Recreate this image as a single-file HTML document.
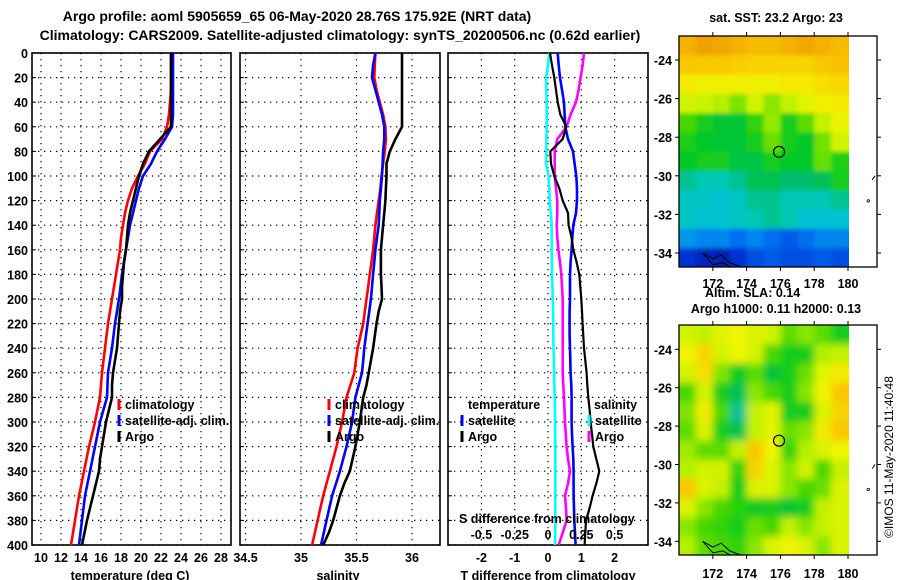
<!DOCTYPE html>
<html><head><meta charset="utf-8">
<style>
html,body{margin:0;padding:0;background:#fff;}
svg{display:block;font-family:"Liberation Sans",Arial,sans-serif;}
.b{font-weight:bold;font-size:12.5px;fill:#000;}
.t{font-weight:bold;font-size:14px;fill:#000;}
</style></head>
<body>
<svg id="fig" width="900" height="580" viewBox="0 0 900 580" xmlns="http://www.w3.org/2000/svg">
<defs>
<clipPath id="cTop"><rect x="679" y="36" width="170" height="231"/></clipPath>
<clipPath id="cBot"><rect x="679" y="325" width="170" height="230"/></clipPath>
<clipPath id="cP1"><rect x="32" y="53" width="199" height="492"/></clipPath>
<clipPath id="cP2"><rect x="240" y="53" width="200" height="492"/></clipPath>
<clipPath id="cP3"><rect x="448" y="53" width="200" height="492"/></clipPath>
<filter id="blurTop" x="-5%" y="-5%" width="110%" height="110%"><feGaussianBlur stdDeviation="2"/></filter>
<filter id="blurBot" x="-5%" y="-5%" width="110%" height="110%"><feGaussianBlur stdDeviation="4"/></filter>
</defs>
<text class="t" x="297" y="21" text-anchor="middle">Argo profile: aoml 5905659_65 06-May-2020 28.76S 175.92E (NRT data)</text>
<text class="t" x="340" y="40" text-anchor="middle">Climatology: CARS2009. Satellite-adjusted climatology: synTS_20200506.nc (0.62d earlier)</text>
<g id="p1"></g>
<g id="p2"></g>
<g id="p3"></g>
<g id="mapTop"></g>
<g id="mapBot"></g>
<text class="b" x="776" y="22" text-anchor="middle">sat. SST: 23.2 Argo: 23</text>
<text class="b" x="705" y="297">Altim. SLA: 0.14</text>
<text class="b" x="776" y="313" text-anchor="middle">Argo h1000: 0.11 h2000: 0.13</text>
<text x="893" y="457" font-size="12" text-anchor="middle" transform="rotate(-90 893 457)">©IMOS 11-May-2020 11:40:48</text>
</svg>
<script>
// ---- profile data (depth every 10 m) ----
const depths = [0,10,20,30,40,50,60,70,80,90,100,110,120,130,140,150,160,170,180,190,200,210,220,230,240,250,260,270,280,290,300,310,320,330,340,350,360,370,380,390,400];
const tempClim = [23.0,23.0,23.0,23.0,22.9,22.8,22.6,22.1,20.9,20.4,19.7,19.1,18.7,18.4,18.2,18.0,17.9,17.7,17.5,17.3,17.1,16.9,16.7,16.55,16.4,16.25,16.1,16.0,15.9,15.65,15.4,15.1,14.8,14.55,14.3,14.05,13.8,13.6,13.4,13.2,13.0];
const tempSat = [23.2,23.2,23.2,23.2,23.2,23.2,23.1,22.4,21.6,21.0,20.2,19.8,19.5,19.2,18.9,18.7,18.5,18.3,18.1,17.95,17.8,17.6,17.4,17.25,17.1,16.9,16.7,16.65,16.6,16.25,15.9,15.65,15.4,15.15,14.9,14.65,14.4,14.25,14.1,13.95,13.8];
const tempArgo = [23.0,23.0,23.0,23.0,23.0,23.0,23.0,21.9,20.8,20.2,19.8,19.5,19.2,18.9,18.7,18.6,18.5,18.3,18.2,18.1,18.1,17.9,17.8,17.7,17.6,17.4,17.2,17.1,17.1,16.8,16.5,16.3,16.1,15.9,15.8,15.5,15.2,14.9,14.6,14.35,14.1];
const salClim = [35.67,35.665,35.66,35.68,35.71,35.74,35.76,35.765,35.755,35.74,35.725,35.715,35.70,35.685,35.67,35.66,35.65,35.635,35.62,35.605,35.59,35.575,35.56,35.535,35.51,35.495,35.48,35.445,35.41,35.39,35.37,35.345,35.32,35.29,35.26,35.23,35.20,35.175,35.15,35.125,35.10];
const salSat = [35.67,35.65,35.64,35.67,35.70,35.73,35.75,35.75,35.74,35.735,35.73,35.72,35.71,35.705,35.70,35.685,35.67,35.66,35.65,35.64,35.63,35.615,35.60,35.585,35.57,35.56,35.55,35.52,35.49,35.475,35.46,35.435,35.41,35.38,35.35,35.315,35.28,35.255,35.23,35.205,35.18];
const salArgo = [35.91,35.91,35.91,35.91,35.91,35.91,35.91,35.85,35.80,35.77,35.77,35.765,35.76,35.75,35.74,35.73,35.72,35.72,35.72,35.725,35.73,35.70,35.68,35.665,35.65,35.63,35.61,35.59,35.56,35.545,35.53,35.51,35.49,35.465,35.44,35.39,35.35,35.32,35.29,35.25,35.20];
const tDiffSat = [0.29,0.32,0.36,0.42,0.48,0.5,0.52,0.6,0.75,0.8,0.85,0.87,0.87,0.84,0.76,0.73,0.71,0.68,0.66,0.66,0.66,0.65,0.65,0.65,0.66,0.67,0.68,0.7,0.71,0.71,0.71,0.72,0.74,0.76,0.77,0.77,0.77,0.78,0.79,0.81,0.83];
const tDiffArgo = [0.06,0.12,0.19,0.24,0.29,0.37,0.55,0.44,0.07,0.09,0.19,0.34,0.44,0.6,0.62,0.71,0.76,0.86,0.94,0.97,1.0,1.02,1.04,1.06,1.08,1.12,1.16,1.18,1.21,1.25,1.28,1.32,1.36,1.45,1.54,1.45,1.34,1.25,1.14,1.12,1.1];
const sDiffSat = [0.01,0.0,-0.015,-0.012,-0.01,-0.01,-0.01,-0.012,-0.012,-0.015,0.005,0.01,0.012,0.02,0.028,0.028,0.028,0.029,0.03,0.033,0.036,0.038,0.04,0.04,0.041,0.044,0.046,0.048,0.05,0.052,0.053,0.054,0.055,0.055,0.055,0.055,0.055,0.055,0.055,0.054,0.053];
const sDiffArgo = [0.27,0.26,0.245,0.23,0.21,0.17,0.14,0.07,0.05,0.05,0.05,0.06,0.07,0.07,0.065,0.07,0.078,0.09,0.10,0.105,0.11,0.11,0.11,0.11,0.11,0.11,0.11,0.115,0.12,0.124,0.128,0.134,0.14,0.15,0.165,0.15,0.128,0.135,0.14,0.11,0.08];
const depthTicks = [0,20,40,60,80,100,120,140,160,180,200,220,240,260,280,300,320,340,360,380,400];
const tempTicks = [10,12,14,16,18,20,22,24,26,28];
const salTicks = ["34.5","35","35.5","36"];
const tDiffTicks = [-2,-1,0,1,2];
const sDiffTicks = ["-0.5","-0.25","0","0.25","0.5"];
// ---- map data (rows lat -22.75 .. -34.75, cols lon 170..180; normalized colour values) ----
const sstGrid = [
[0.9,0.93,0.92,0.9,0.88,0.88,0.9,0.92,0.9,0.88],
[0.86,0.86,0.86,0.85,0.84,0.84,0.84,0.84,0.86,0.87],
[0.8,0.79,0.79,0.79,0.79,0.79,0.8,0.8,0.82,0.83],
[0.74,0.73,0.7,0.65,0.74,0.66,0.72,0.76,0.79,0.8],
[0.6,0.55,0.52,0.52,0.58,0.67,0.55,0.62,0.72,0.77],
[0.56,0.53,0.52,0.52,0.55,0.63,0.55,0.53,0.64,0.74],
[0.53,0.55,0.55,0.51,0.51,0.55,0.53,0.53,0.63,0.56],
[0.45,0.42,0.42,0.45,0.5,0.5,0.48,0.48,0.5,0.55],
[0.4,0.4,0.38,0.4,0.45,0.45,0.42,0.42,0.42,0.45],
[0.4,0.38,0.38,0.4,0.42,0.45,0.42,0.38,0.38,0.38],
[0.3,0.28,0.28,0.25,0.28,0.25,0.22,0.25,0.28,0.28],
[0.15,0.1,0.08,0.15,0.2,0.22,0.2,0.2,0.22,0.2]];
const slaGrid = [
[0.74,0.72,0.76,0.78,0.75,0.74,0.62,0.66,0.62,0.55],
[0.78,0.84,0.74,0.78,0.74,0.6,0.55,0.55,0.7,0.72],
[0.74,0.82,0.65,0.54,0.62,0.52,0.55,0.63,0.76,0.8],
[0.6,0.74,0.55,0.5,0.66,0.6,0.55,0.66,0.78,0.86],
[0.65,0.8,0.6,0.45,0.72,0.76,0.55,0.55,0.75,0.84],
[0.62,0.75,0.55,0.5,0.72,0.76,0.63,0.66,0.8,0.86],
[0.68,0.62,0.62,0.72,0.86,0.78,0.58,0.7,0.75,0.78],
[0.7,0.74,0.74,0.58,0.84,0.75,0.66,0.74,0.6,0.72],
[0.86,0.75,0.72,0.55,0.75,0.75,0.66,0.6,0.63,0.75],
[0.75,0.66,0.6,0.57,0.54,0.55,0.52,0.55,0.72,0.75],
[0.66,0.6,0.58,0.55,0.63,0.6,0.72,0.66,0.72,0.75],
[0.7,0.62,0.6,0.58,0.66,0.75,0.78,0.75,0.66,0.75]];
const mapLonTicks = [172,174,176,178,180];
const topLatTicks = [-24,-26,-28,-30,-32,-34];
const botLatTicks = [-24,-26,-28,-30,-32,-34];
const argoLon = 175.92, argoLat = -28.76;

const NS='http://www.w3.org/2000/svg';
function mk(parent,tag,attrs){const e=document.createElementNS(NS,tag);for(const k in attrs)e.setAttribute(k,attrs[k]);parent.appendChild(e);return e;}
function txt(parent,x,y,s,anchor){const e=mk(parent,'text',{x:x,y:y,'class':'b','text-anchor':anchor||'middle'});e.textContent=s;return e;}

const yD = d => 53 + d*1.23;
const xT = t => 41 + (t-10)*10;
const xS = s => 245.5 + (s-34.5)*111;
const xDT = v => 548 + v*33.3;
const xDS = v => 548 + v*133.2;

function panel(g,x0,x1,vx,showDepthLabels){
  for(const d of depthTicks){
    const l=mk(g,'line',{x1:x0,x2:x1,y1:yD(d),y2:yD(d),stroke:'#000','stroke-width':1.2,'stroke-dasharray':'1.3 4.7'});
    
    
    mk(g,'line',{x1:x0,x2:x0+4,y1:yD(d),y2:yD(d),stroke:'#000','stroke-width':1});
    if(showDepthLabels){const t=txt(g,28,yD(d)+5,String(d),'end');
      
      }
  }
  for(const x of vx){
    const l=mk(g,'line',{x1:x,x2:x,y1:53,y2:545,stroke:'#000','stroke-width':1.2,'stroke-dasharray':'1.3 4.7'});
    
    
  }
  const r=mk(g,'rect',{x:x0,y:53,width:x1-x0,height:492,fill:'none',stroke:'#000','stroke-width':1.6});
  
  
}
function series(g,vals,xf,color,clip,name,w){
  const pts=vals.map((v,i)=>xf(v).toFixed(1)+','+yD(depths[i]).toFixed(1)).join(' ');
  const p=mk(g,'polyline',{points:pts,fill:'none',stroke:color,'stroke-width':w||2.6,'clip-path':'url(#'+clip+')'});
  
  
}
function legItem(g,x,y,color,label,name){
  mk(g,'line',{x1:x,x2:x,y1:y-10,y2:y+1,stroke:color,'stroke-width':3});
  const t=txt(g,x+6,y,label,'start');
  
  
}

// Panel 1
const p1=document.getElementById('p1');
panel(p1,32,231,tempTicks.map(xT),true);
series(p1,tempClim,xT,'#ff0000','cP1','temp-climatology-line');
series(p1,tempSat,xT,'#0000ff','cP1','temp-satellite-line');
series(p1,tempArgo,xT,'#000000','cP1','temp-argo-line');
for(const t of tempTicks){const e=txt(p1,xT(t),562,String(t));
  
  }
{const e=txt(p1,130,580,'temperature (deg C)');}
legItem(p1,119,409,'#ff0000','climatology','legend-climatology');
legItem(p1,119,425,'#0000ff','satellite-adj. clim.','legend-satellite-adj');
legItem(p1,119,441,'#000000','Argo','legend-argo');

// Panel 2
const p2=document.getElementById('p2');
panel(p2,240,440,salTicks.map(s=>xS(parseFloat(s))),false);
series(p2,salClim,xS,'#ff0000','cP2','sal-climatology-line');
series(p2,salSat,xS,'#0000ff','cP2','sal-satellite-line');
series(p2,salArgo,xS,'#000000','cP2','sal-argo-line');
for(const s of salTicks){const e=txt(p2,xS(parseFloat(s)),562,s);
  
  }
{const e=txt(p2,338,580,'salinity');}
legItem(p2,329,409,'#ff0000','climatology','legend-climatology');
legItem(p2,329,425,'#0000ff','satellite-adj. clim.','legend-satellite-adj');
legItem(p2,329,441,'#000000','Argo','legend-argo');

// Panel 3
const p3=document.getElementById('p3');
panel(p3,448,648,tDiffTicks.map(xDT),false);
series(p3,sDiffSat,xDS,'#00ffff','cP3','s-diff-satellite-line');
series(p3,sDiffArgo,xDS,'#ff00ff','cP3','s-diff-argo-line');
series(p3,tDiffSat,xDT,'#0000ff','cP3','t-diff-satellite-line');
series(p3,tDiffArgo,xDT,'#000000','cP3','t-diff-argo-line',2.2);
for(const t of tDiffTicks){const e=txt(p3,xDT(t),562,String(t));
  
  }
for(const s of sDiffTicks){const e=txt(p3,xDS(parseFloat(s)),539,s);
  
  }
{const e=txt(p3,459,523,'S difference from climatology','start');}
{const e=txt(p3,548,580,'T difference from climatology');}
{const e=txt(p3,468,409,'temperature','start');}
legItem(p3,462,425,'#0000ff','satellite','legend-t-satellite');
legItem(p3,462,441,'#000000','Argo','legend-t-argo');
{const e=txt(p3,594,409,'salinity','start');}
legItem(p3,589,425,'#00ffff','satellite','legend-s-satellite');
legItem(p3,589,441,'#ff00ff','Argo','legend-s-argo');

// colormap
const stops=[[0,[0,16,140]],[0.15,[0,48,210]],[0.25,[0,110,240]],[0.35,[0,190,230]],[0.42,[0,200,180]],[0.48,[0,190,110]],[0.53,[0,200,40]],[0.6,[70,215,0]],[0.7,[180,240,0]],[0.78,[240,245,0]],[0.85,[250,205,0]],[0.93,[240,160,0]],[1,[230,130,0]]];
function cmap(v){
  for(let i=1;i<stops.length;i++){if(v<=stops[i][0]){const a=stops[i-1],b=stops[i];const f=(v-a[0])/(b[0]-a[0]);
    const c=a[1].map((x,k)=>Math.round(x+(b[1][k]-x)*f));return 'rgb('+c.join(',')+')';}}
  return 'rgb(230,130,0)';
}
function drawMap(g,grid,top,clip,filt,latTicks,name){
  const yL = lat => top.y24 + (-24-lat)*top.py;
  const xL = lon => 848 - (180-lon)*16.9;
  const cells=mk(g,'g',{'clip-path':'url(#'+clip+')'});
  const inner=mk(cells,'g',{filter:'url(#'+filt+')'});
  grid.forEach((row,r)=>row.forEach((v,c)=>{
    const lat0=-22.75-r, lon0=170+c;
    // extend edge cells outward so blur does not fade at borders
    const x=xL(lon0)-(c===0?12:0), w=17.4+(c===0?12:0)+(c===9?12:0);
    const y=yL(lat0)-(r===0?12:0), h=top.py+0.5+(r===0?12:0)+(r===grid.length-1?12:0);
    const cell=mk(inner,'rect',{x:x.toFixed(1),y:y.toFixed(1),width:w.toFixed(1),height:h.toFixed(1),fill:cmap(v)});
    
    
  }));
  mk(g,'rect',{x:849,y:top.y0,width:28,height:top.h,fill:'#fff'});
  const fr=mk(g,'rect',{x:679,y:top.y0,width:198,height:top.h,fill:'none',stroke:'#000','stroke-width':1.3});
  
  
  for(const lon of mapLonTicks){
    mk(g,'line',{x1:xL(lon),x2:xL(lon),y1:top.y0,y2:top.y0-4,stroke:'#000'});
    mk(g,'line',{x1:xL(lon),x2:xL(lon),y1:top.y0+top.h,y2:top.y0+top.h+4,stroke:'#000'});
    const t=txt(g,xL(lon),top.lonY,String(lon));
    
    
  }
  for(const lat of latTicks){
    mk(g,'line',{x1:675,x2:679,y1:yL(lat),y2:yL(lat),stroke:'#000'});
    mk(g,'line',{x1:877,x2:881,y1:yL(lat),y2:yL(lat),stroke:'#000'});
    const t=txt(g,672,yL(lat)+5,String(lat),'end');
    
    
  }
  const m=mk(g,'circle',{cx:xL(argoLon),cy:yL(argoLat),r:5.5,fill:'none',stroke:'#000','stroke-width':1.2});
  
  
  mk(g,'polyline',{points:[[171.4,-34.0],[172.0,-34.3],[172.5,-34.1],[173.0,-34.5],[173.6,-34.7],[173.2,-34.8],[172.6,-34.5],[172.0,-34.6],[171.4,-34.0]].map(p=>xL(p[0])+','+yL(p[1])).join(' '),fill:'none',stroke:'#000','stroke-width':1,'clip-path':'url(#'+clip+')'});
  mk(g,'path',{d:'M'+xL(181.6)+' '+yL(-30)+' q-2 3 -3 4',fill:'none',stroke:'#000'});
  mk(g,'circle',{cx:xL(181.2),cy:yL(-31.3),r:1.2,fill:'none',stroke:'#000','stroke-width':0.8});
}
drawMap(document.getElementById('mapTop'),sstGrid,{y24:60,py:19.3,y0:36,h:231,lonY:288},'cTop','blurTop',topLatTicks,'sst-map');
drawMap(document.getElementById('mapBot'),slaGrid,{y24:349.3,py:19.2,y0:325,h:230,lonY:578},'cBot','blurBot',botLatTicks,'sla-map');
</script>
</body></html>
